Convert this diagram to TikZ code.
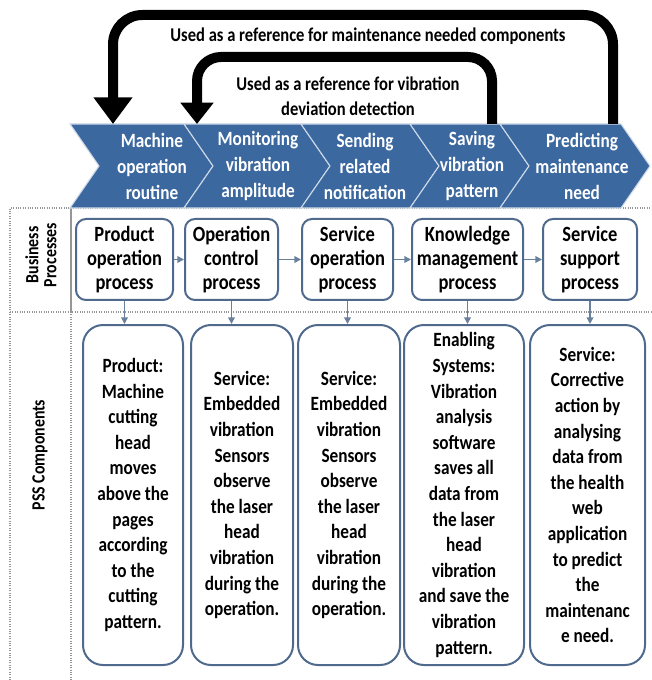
\documentclass[tikz,border=0pt]{standalone}
\usepackage{fontspec}
\setmainfont[FakeStretch=0.85]{Carlito}
\usetikzlibrary{arrows.meta}
\definecolor{chevblue}{RGB}{60,104,160}
\definecolor{boxline}{RGB}{79,106,140}
\definecolor{lanegray}{RGB}{150,150,150}

\begin{document}
\begin{tikzpicture}[
            x = 0.75pt, y = -0.75pt,
            every node/.style={align=center, font=\bfseries},
            chev/.style={fill=chevblue, draw=white!75!chevblue, line width=0.8pt},
            chevtext/.style={text=white, font=\bfseries\fontsize{15.2}{19.5}\selectfont},
            procbox/.style={draw=boxline, line width=1.5pt, rounded corners=7.5pt, fill=white,
                minimum height=60.75pt, inner sep=0pt, font=\bfseries\fontsize{16.3}{18}\selectfont},
            pssbox/.style={draw=boxline, line width=1.5pt, rounded corners=15pt, fill=white,
                minimum height=255pt, inner sep=0pt, font=\bfseries\fontsize{15.2}{19.2}\selectfont},
            flow/.style={draw=boxline!85!white, line width=1.2pt, -{Triangle[width=5pt,length=5pt]}},
            backarrow/.style={line width=7.5pt, rounded corners=22pt},
            lane/.style={draw=lanegray, densely dotted, line width=0.8pt},
            lanelabel/.style={rotate=90, font=\bfseries\fontsize{14}{13.5}\selectfont},
            looplabel/.style={font=\bfseries\fontsize{14.6}{19}\selectfont},
            ]
        \useasboundingbox (0,0) rectangle (651,680);

        % lanes
        \draw[lane] (10,680) -- (10,208) -- (651,208);
        \draw[lane] (10,312) -- (651,312);
        \draw[draw=lanegray, line width=0.8pt] (71,208) -- (71,312);
        \draw[lane] (71,312) -- (71,680);
        \node[lanelabel] (bplabel) at (41,255) {Business\\Processes};
        \node[lanelabel] (psslabel) at (40,455) {PSS Components};

        % value chain
        \path[chev] (70,124) -- (184,124) -- (213,166) -- (184,208) -- (70,208) -- (99,166) -- cycle;
        \path[chev] (184,124) -- (301,124) -- (330,166) -- (301,208) -- (184,208) -- (213,166) -- cycle;
        \path[chev] (301,124) -- (410,124) -- (439,166) -- (410,208) -- (301,208) -- (330,166) -- cycle;
        \path[chev] (410,124) -- (500,124) -- (529,166) -- (500,208) -- (410,208) -- (439,166) -- cycle;
        \path[chev] (500,124) -- (621,124) -- (650,166) -- (621,208) -- (500,208) -- (529,166) -- cycle;

        \node[chevtext] (c1) at (152,166) {Machine\\operation\\routine};
        \node[chevtext] (c2) at (258,166) {Monitoring\\vibration\\amplitude};
        \node[chevtext] (c3) at (365,166) {Sending\\related\\notification};
        \node[chevtext] (c4) at (472,166) {Saving\\vibration\\pattern};
        \node[chevtext] (c5) at (582,166) {Predicting\\maintenance\\need};

        % feedback arrows
        \coordinate (outfrom) at (613,124);
        \coordinate (outto) at (113,124);
        \coordinate (outtop) at (0,15);
        \coordinate (infrom) at (492,124);
        \coordinate (into) at (197,124);
        \coordinate (intop) at (0,57);
        \draw[backarrow, -{Triangle[width=28pt,length=20pt]}]
            (outfrom) -- (outfrom |- outtop) -- (outto |- outtop) -- (outto);
        \draw[backarrow, rounded corners=18pt, -{Triangle[width=24pt,length=16pt]}]
            (infrom) -- (infrom |- intop) -- (into |- intop) -- (into);
        \node[looplabel] (outlabel) at (368,36) {Used as a reference for maintenance needed components};
        \node[looplabel] (inlabel) at (348,96) {Used as a reference for vibration\\deviation detection};

        % business processes
        \node[procbox, minimum width=72.75pt] (b1) at (124.5,259.5) {Product\\operation\\process};
        \node[procbox, minimum width=69.75pt] (b2) at (231.5,259.5) {Operation\\control\\process};
        \node[procbox, minimum width=68.25pt] (b3) at (347.5,259.5) {Service\\operation\\process};
        \node[procbox, minimum width=83.25pt] (b4) at (467.5,259.5) {Knowledge\\management\\process};
        \node[procbox, minimum width=70.5pt] (b5) at (590,259.5) {Service\\support\\process};

        \draw[flow] (b1) -- (b2);
        \draw[flow] (b2) -- (b3);
        \draw[flow] (b3) -- (b4);
        \draw[flow] (b4) -- (b5);

        % PSS components
        \node[pssbox, minimum width=75pt] (p1) at (133,495)
            {Product:\\Machine\\cutting\\head\\moves\\above the\\pages\\according\\to the\\cutting\\pattern.};
        \node[pssbox, minimum width=76.5pt] (p2) at (242,495)
            {Service:\\Embedded\\vibration\\Sensors\\observe\\the laser\\head\\vibration\\during the\\operation.};
        \node[pssbox, minimum width=76.5pt] (p3) at (349,495)
            {Service:\\Embedded\\vibration\\Sensors\\observe\\the laser\\head\\vibration\\during the\\operation.};
        \node[pssbox, minimum width=90pt] (p4) at (464,495)
            {Enabling\\Systems:\\Vibration\\analysis\\software\\saves all\\data from\\the laser\\head\\vibration\\and save the\\vibration\\pattern.};
        \node[pssbox, minimum width=86.25pt] (p5) at (587.5,495)
            {Service:\\Corrective\\action by\\analysing\\data from\\the health\\web\\application\\to predict\\the\\maintenanc\\e need.};

        \draw[flow] (b1.south) -- (b1.south |- p1.north);
        \draw[flow] (b2.south) -- (b2.south |- p2.north);
        \draw[flow] (b3.south) -- (b3.south |- p3.north);
        \draw[flow] (b4.south) -- (b4.south |- p4.north);
        \draw[flow] (b5.south) -- (b5.south |- p5.north);
    \end{tikzpicture}
\end{document}
